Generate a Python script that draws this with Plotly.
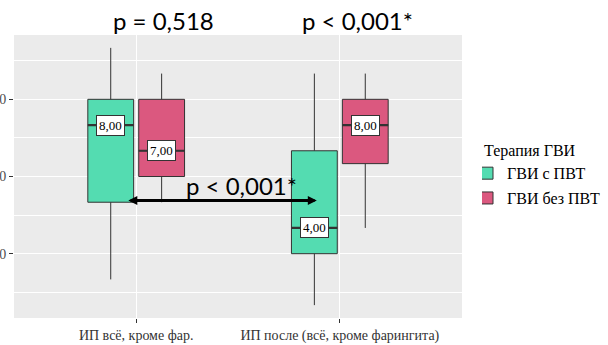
import plotly.graph_objects as go

categories = ["ИП всё, кроме фар.", "ИП после (всё, кроме фарингита)"]
series_names = ["ГВИ с ПВТ", "ГВИ без ПВТ"]
colors = ["rgb(84,220,177)", "rgb(219,88,127)"]

# box statistics per series: [cat1, cat2]
lower = [[2, 1], [5, 4]]
q1 = [[5, 3], [6, 6.5]]
median = [[8, 4], [7, 8]]
q3 = [[9, 7], [9, 9]]
upper = [[11, 10], [10, 10]]

y_ticks = [3, 6, 9]
y_ticklabels = ["3,0", "6,0", "9,0"]

p_top = ["p = 0,518", "p < 0,001*"]
p_mid = "p < 0,001*"

SERIF = "Liberation Serif"
SANS = "Lato"

BOXGAP, GROUPGAP = 0.5, 0.1

fig = go.Figure()
for i, name in enumerate(series_names):
    fig.add_trace(go.Box(
        name=name,
        legendgroup=f"g{i}",
        x=categories,
        q1=q1[i], median=median[i], q3=q3[i],
        lowerfence=lower[i], upperfence=upper[i],
        fillcolor=colors[i],
        line=dict(color="#333333", width=1),
        whiskerwidth=0,
        boxpoints=False,
        hoverinfo="skip",
    ))

n = len(series_names)
slot = (1 - BOXGAP) / n
half_w = slot * (1 - GROUPGAP) / 2
offsets = [-(1 - BOXGAP) / 2 + slot * (i + 0.5) for i in range(n)]

annotations = []
shapes = []
for i in range(n):
    for j in range(len(categories)):
        cx = j + offsets[i]
        shapes.append(dict(type="line", xref="x", yref="y",
                           x0=cx - half_w, x1=cx + half_w,
                           y0=median[i][j], y1=median[i][j],
                           line=dict(color="#333333", width=2.2), layer="above"))
        annotations.append(dict(
            x=cx, y=median[i][j], xref="x", yref="y",
            text=f"{median[i][j]:.2f}".replace(".", ","),
            showarrow=False, bgcolor="white", bordercolor="#333333",
            borderwidth=1, borderpad=2,
            font=dict(family=SERIF, size=13, color="black"),
        ))

# top p-values
annotations.append(dict(x=(163 - 14) / 448, y=1.05, xref="paper", yref="paper",
                        text=p_top[0], showarrow=False, xanchor="center", yanchor="middle",
                        font=dict(family=SANS, size=24, color="black")))
annotations.append(dict(x=(357.5 - 14) / 448, y=1.05, xref="paper", yref="paper",
                        text=p_top[1], showarrow=False, xanchor="center", yanchor="middle",
                        font=dict(family=SANS, size=24, color="black")))
# middle comparison
annotations.append(dict(x=0.518, y=5.64, xref="x", yref="y", text=p_mid,
                        showarrow=False, xanchor="center",
                        font=dict(family=SANS, size=24, color="black")))
annotations.append(dict(x=0.887, y=5.07, ax=-0.046, ay=5.07, xref="x", yref="y",
                        axref="x", ayref="y", text="", showarrow=True,
                        arrowside="end+start", arrowhead=2, startarrowhead=2,
                        arrowsize=0.6, startarrowsize=0.6, arrowwidth=3,
                        arrowcolor="black"))

fig.update_layout(
    width=608, height=345,
    template="none",
    paper_bgcolor="white",
    plot_bgcolor="#EBEBEB",
    margin=dict(l=14, r=146, t=35, b=27, autoexpand=False),
    boxmode="group", boxgap=BOXGAP, boxgroupgap=GROUPGAP,
    font=dict(family=SERIF, size=14, color="black"),
    showlegend=True,
    legend=dict(
        title=dict(text="Терапия ГВИ", font=dict(family=SERIF, size=16, color="black")),
        x=(482 - 14) / 448, xanchor="left", y=0.645, yanchor="top",
        font=dict(family=SERIF, size=16, color="black"),
        bgcolor="rgba(0,0,0,0)", tracegroupgap=1, indentation=-15,
    ),
    annotations=annotations,
    shapes=shapes,
)
fig.update_xaxes(
    type="category", range=[-0.6, 1.6], showgrid=True, gridcolor="white", gridwidth=1.1,
    ticks="outside", ticklen=4, tickwidth=1, tickcolor="#333333",
    tickfont=dict(family=SERIF, size=14, color="#333333"),
    showline=False, zeroline=False, automargin=False, fixedrange=True,
)
fig.update_yaxes(
    range=[0.5, 11.5], tickvals=y_ticks, ticktext=y_ticklabels,
    showgrid=True, gridcolor="white", gridwidth=1.1,
    ticks="outside", ticklen=4, tickwidth=1, tickcolor="#333333",
    tickfont=dict(family=SERIF, size=14, color="#4D4D4D"),
    minor=dict(dtick=1.5, tick0=0, showgrid=True, gridcolor="white", gridwidth=0.5, ticks=""),
    showline=False, zeroline=False, automargin=False, fixedrange=True,
)

fig.write_html("out.html", config={"displayModeBar": False},
               post_script="document.body.style.margin='0';document.body.style.overflow='hidden';")
